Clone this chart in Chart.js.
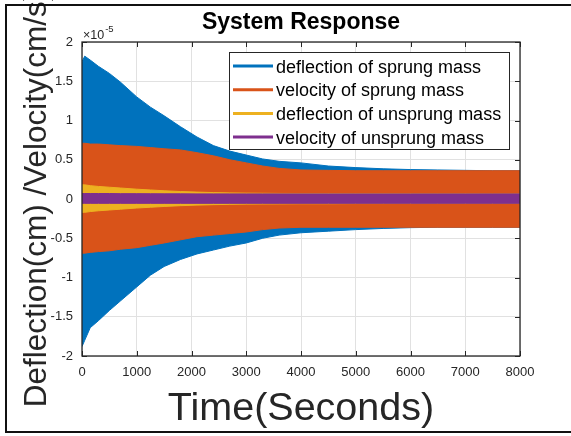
<!DOCTYPE html>
<html>
<head>
<meta charset="utf-8">
<script src="https://cdn.jsdelivr.net/npm/chart.js@4.4.1/dist/chart.umd.min.js"></script>
<style>
  html, body { margin: 0; padding: 0; background: #fff; }
  #wrap { width: 571px; height: 436px; }
</style>
</head>
<body>
<div id="wrap"><canvas id="response-chart" width="571" height="436"></canvas></div>
<script>
// The four signals oscillate too fast to see single cycles, so each one is
// kept as its upper and lower envelope (units of 1e-5).
const time = [0, 50, 150, 300, 500, 700, 1000, 1250, 1500, 1800, 2100, 2400, 2700,
  3000, 3300, 3600, 4000, 4500, 5000, 5500, 6000, 6500, 7000, 7500, 8000];

const sprungDeflHigh = [1.75, 1.82, 1.77, 1.69, 1.60, 1.49, 1.30, 1.17, 1.06, 0.92, 0.79, 0.68, 0.61,
  0.56, 0.51, 0.48, 0.46, 0.42, 0.40, 0.385, 0.375, 0.37, 0.365, 0.36, 0.36];
const sprungDeflLow = [-1.88, -1.80, -1.64, -1.55, -1.42, -1.30, -1.12, -0.97, -0.86, -0.77, -0.70, -0.65, -0.60,
  -0.56, -0.50, -0.46, -0.43, -0.41, -0.39, -0.375, -0.365, -0.36, -0.36, -0.36, -0.36];

const sprungVelHigh = [0.71, 0.71, 0.70, 0.70, 0.69, 0.68, 0.67, 0.655, 0.64, 0.625, 0.59, 0.55, 0.50,
  0.46, 0.42, 0.39, 0.37, 0.365, 0.36, 0.36, 0.36, 0.36, 0.36, 0.36, 0.36];
const sprungVelLow = [-0.69, -0.69, -0.68, -0.67, -0.66, -0.64, -0.62, -0.59, -0.56, -0.52, -0.48, -0.46, -0.44,
  -0.42, -0.39, -0.37, -0.36, -0.36, -0.36, -0.36, -0.36, -0.36, -0.36, -0.36, -0.36];

const unsprungDeflHigh = [0.18, 0.18, 0.17, 0.16, 0.15, 0.14, 0.125, 0.115, 0.105, 0.095, 0.088, 0.082, 0.078,
  0.075, 0.073, 0.071, 0.07, 0.07, 0.068, 0.068, 0.067, 0.066, 0.066, 0.065, 0.065];
const unsprungDeflLow = [-0.17, -0.17, -0.16, -0.15, -0.14, -0.13, -0.115, -0.105, -0.095, -0.085, -0.078, -0.072, -0.068,
  -0.065, -0.063, -0.062, -0.06, -0.06, -0.058, -0.058, -0.057, -0.056, -0.056, -0.055, -0.055];

const unsprungVelHigh = [0.07, 0.07, 0.07, 0.07, 0.07, 0.068, 0.068, 0.067, 0.066, 0.066, 0.065, 0.065, 0.065,
  0.065, 0.065, 0.065, 0.065, 0.065, 0.065, 0.065, 0.065, 0.065, 0.065, 0.065, 0.065];
const unsprungVelLow = [-0.055, -0.055, -0.055, -0.055, -0.055, -0.055, -0.055, -0.055, -0.055, -0.055, -0.055, -0.055, -0.055,
  -0.055, -0.055, -0.055, -0.055, -0.055, -0.055, -0.055, -0.055, -0.055, -0.055, -0.055, -0.055];

const seriesLabels = [
  'deflection of sprung mass',
  'velocity of sprung mass',
  'deflection of unsprung mass',
  'velocity of unsprung mass'
];
const seriesColors = ['#0072BD', '#D95319', '#EDB120', '#7E2F8E'];

const xTicks = [0, 1000, 2000, 3000, 4000, 5000, 6000, 7000, 8000];
const yTicks = [-2, -1.5, -1, -0.5, 0, 0.5, 1, 1.5, 2];

const axisColor = '#262626';
const gridColor = '#e1e1e1';

Chart.defaults.font.family = "'Liberation Sans', Arial, sans-serif";

function toPoints(values) {
  return time.map((t, i) => ({ x: t, y: values[i] }));
}

// upper envelope fills down to the lower one; later series sit on top
function envelopePair(idx, high, low) {
  const common = {
    borderColor: seriesColors[idx],
    backgroundColor: seriesColors[idx],
    borderWidth: 1,
    pointRadius: 0,
    tension: 0,
    order: 4 - idx
  };
  return [
    Object.assign({ label: seriesLabels[idx], data: toPoints(high), fill: '+1', inLegend: true }, common),
    Object.assign({ label: '', data: toPoints(low), fill: false, inLegend: false }, common)
  ];
}

const datasets = [].concat(
  envelopePair(0, sprungDeflHigh, sprungDeflLow),
  envelopePair(1, sprungVelHigh, sprungVelLow),
  envelopePair(2, unsprungDeflHigh, unsprungDeflLow),
  envelopePair(3, unsprungVelHigh, unsprungVelLow)
);

// axes box + inward tick marks, under the data like MATLAB does
const axesBox = {
  id: 'axesBox',
  beforeDatasetsDraw(chart) {
    const ctx = chart.ctx;
    const a = chart.chartArea;
    const xs = chart.scales.x, ys = chart.scales.y;
    ctx.save();
    ctx.strokeStyle = axisColor;
    ctx.lineWidth = 1;
    ctx.beginPath();
    xTicks.forEach(v => {
      const px = Math.round(xs.getPixelForValue(v)) + 0.5;
      ctx.moveTo(px, a.bottom); ctx.lineTo(px, a.bottom - 5);
      ctx.moveTo(px, a.top); ctx.lineTo(px, a.top + 5);
    });
    yTicks.forEach(v => {
      const py = Math.round(ys.getPixelForValue(v)) + 0.5;
      ctx.moveTo(a.left, py); ctx.lineTo(a.left + 5, py);
      ctx.moveTo(a.right, py); ctx.lineTo(a.right - 5, py);
    });
    ctx.stroke();
    ctx.restore();
  },
  afterDatasetsDraw(chart) {
    const ctx = chart.ctx;
    const a = chart.chartArea;
    ctx.save();
    ctx.strokeStyle = axisColor;
    ctx.lineWidth = 1.3;
    ctx.strokeRect(a.left, a.top, a.right - a.left, a.bottom - a.top);
    // exponent note at the top of the y axis
    ctx.fillStyle = axisColor;
    ctx.textBaseline = 'alphabetic';
    ctx.textAlign = 'left';
    ctx.font = "12.5px 'Liberation Sans', Arial, sans-serif";
    ctx.fillText('\u00d710', a.left + 1, a.top - 3);
    const w = ctx.measureText('\u00d710').width;
    ctx.font = "9.5px 'Liberation Sans', Arial, sans-serif";
    ctx.fillText('-5', a.left + 1 + w + 1, a.top - 10);
    ctx.restore();
  }
};

// boxed legend in the upper right of the axes
const boxedLegend = {
  id: 'boxedLegend',
  afterDraw(chart) {
    const ctx = chart.ctx;
    const a = chart.chartArea;
    const w = 280, h = 97;
    const left = a.right - 11 - w, top = a.top + 10;
    ctx.save();
    ctx.fillStyle = '#fff';
    ctx.fillRect(left, top, w, h);
    ctx.strokeStyle = axisColor;
    ctx.lineWidth = 1;
    ctx.strokeRect(left + 0.5, top + 0.5, w, h);
    ctx.font = "18px 'Liberation Sans', Arial, sans-serif";
    ctx.textBaseline = 'alphabetic';
    ctx.textAlign = 'left';
    let row = 0;
    chart.data.datasets.forEach(ds => {
      if (!ds.inLegend) return;
      const y = top + 14 + row * 23.7;
      ctx.strokeStyle = ds.borderColor;
      ctx.lineWidth = 3;
      ctx.beginPath();
      ctx.moveTo(left + 4, y);
      ctx.lineTo(left + 44, y);
      ctx.stroke();
      ctx.fillStyle = '#000';
      ctx.fillText(ds.label, left + 47, y + 6.5);
      row++;
    });
    ctx.restore();
  }
};

// figure frame (right edge was cropped off in the original)
const frame = {
  id: 'frame',
  afterDraw(chart) {
    const ctx = chart.ctx;
    ctx.save();
    ctx.strokeStyle = '#111';
    ctx.lineWidth = 2;
    ctx.beginPath();
    ctx.moveTo(571, 5); ctx.lineTo(6, 5); ctx.lineTo(6, 432); ctx.lineTo(571, 432);
    ctx.stroke();
    ctx.restore();
  }
};

new Chart(document.getElementById('response-chart'), {
  type: 'line',
  data: { datasets: datasets },
  options: {
    responsive: false,
    animation: false,
    devicePixelRatio: 1,
    layout: { padding: { left: 0, right: 51, top: 0, bottom: 0 } },
    plugins: {
      legend: { display: false },
      tooltip: { enabled: false },
      title: {
        display: true,
        fullSize: false,
        text: 'System Response',
        color: '#000',
        font: { size: 23, weight: 'bold' },
        padding: { top: 9.2, bottom: 5.2 }
      }
    },
    scales: {
      x: {
        type: 'linear',
        min: 0,
        max: 8000,
        afterFit(scale) { scale.height = 80; },
        afterBuildTicks(scale) { scale.ticks = xTicks.map(v => ({ value: v })); },
        ticks: {
          color: axisColor,
          font: { size: 13 },
          padding: 9,
          maxRotation: 0,
          callback: v => String(v)
        },
        grid: { color: gridColor, drawTicks: false },
        border: { display: false },
        title: {
          display: true,
          text: 'Time(Seconds)',
          color: axisColor,
          font: { size: 39.5 },
          padding: { top: 0, bottom: 3 }
        }
      },
      y: {
        type: 'linear',
        min: -2,
        max: 2,
        afterFit(scale) { scale.width = 82; },
        afterBuildTicks(scale) { scale.ticks = yTicks.map(v => ({ value: v })); },
        ticks: {
          color: axisColor,
          font: { size: 13 },
          padding: 9,
          callback: v => String(v)
        },
        grid: { color: gridColor, drawTicks: false },
        border: { display: false },
        title: {
          display: true,
          text: 'Deflection(cm) /Velocity(cm/s)',
          color: axisColor,
          font: { size: 31.5 },
          padding: { top: 18, bottom: 0 }
        }
      }
    }
  },
  plugins: [axesBox, boxedLegend, frame]
});
</script>
</body>
</html>
